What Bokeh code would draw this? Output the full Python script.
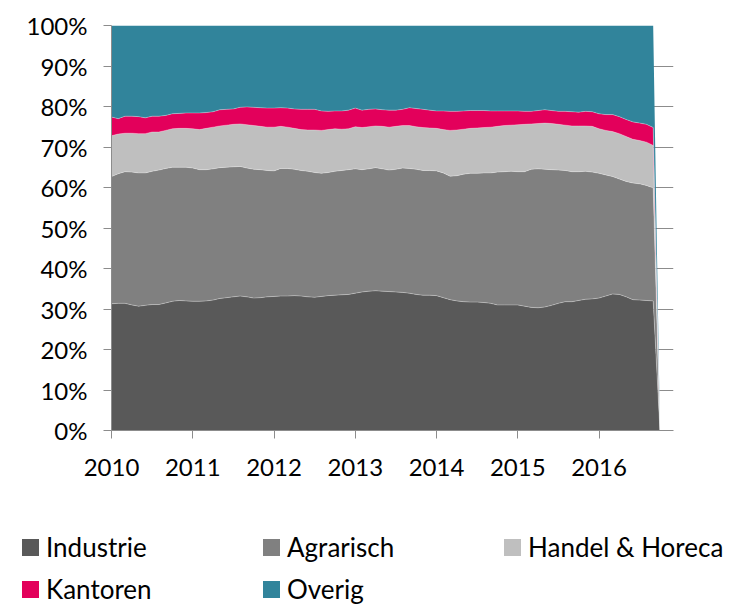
from bokeh.plotting import figure
from bokeh.layouts import column
from bokeh.models import ColumnDataSource, FixedTicker, NumeralTickFormatter, Range1d, Div
from bokeh.embed import file_html
from bokeh.resources import INLINE

# Monthly shares (percent), Jan 2010 .. Sep 2016, followed by an empty month (Oct 2016)
industrie = [31.3, 31.4, 31.4, 31.0, 30.7, 30.9, 31.1, 31.1, 31.5, 31.9, 32.1, 32.0,
             31.9, 31.9, 32.0, 32.2, 32.6, 32.8, 33.0, 33.2, 33.0, 32.7, 32.8, 33.0,
             33.1, 33.2, 33.2, 33.3, 33.2, 33.0, 32.9, 33.1, 33.3, 33.4, 33.5, 33.6,
             33.9, 34.2, 34.4, 34.5, 34.4, 34.3, 34.2, 34.1, 33.9, 33.6, 33.4, 33.4,
             33.3, 32.8, 32.3, 32.0, 31.8, 31.7, 31.7, 31.6, 31.4, 31.0, 31.0, 31.0,
             31.0, 30.7, 30.4, 30.3, 30.5, 30.9, 31.4, 31.8, 31.8, 32.1, 32.4, 32.5,
             32.7, 33.2, 33.7, 33.6, 33.0, 32.3, 32.2, 32.1, 32.0, 0.0]
agrarisch = [31.4, 32.0, 32.5, 32.8, 32.9, 32.7, 32.9, 33.2, 33.2, 33.1, 32.9, 33.0,
             32.9, 32.5, 32.4, 32.4, 32.3, 32.2, 32.1, 32.0, 31.8, 31.8, 31.6, 31.2,
             31.0, 31.5, 31.5, 31.2, 31.0, 31.0, 30.8, 30.4, 30.4, 30.6, 30.7, 30.8,
             30.7, 30.2, 30.2, 30.4, 30.2, 30.0, 30.3, 30.7, 30.8, 30.9, 30.8, 30.8,
             30.8, 30.8, 30.5, 30.9, 31.5, 31.8, 31.8, 32.0, 32.2, 32.8, 32.9, 33.0,
             32.9, 33.2, 34.1, 34.3, 34.0, 33.5, 32.9, 32.4, 32.1, 31.8, 31.6, 31.3,
             30.8, 29.9, 29.0, 28.5, 28.5, 28.8, 28.7, 28.4, 27.9, 0.0]
handel = [10.1, 9.8, 9.5, 9.6, 9.7, 9.7, 9.7, 9.4, 9.4, 9.5, 9.6, 9.6,
          9.7, 9.9, 10.2, 10.3, 10.3, 10.4, 10.5, 10.5, 10.7, 10.8, 10.7, 10.7,
          10.8, 10.4, 10.2, 10.1, 10.1, 10.2, 10.5, 10.6, 10.6, 10.5, 10.2, 10.1,
          10.4, 10.4, 10.4, 10.3, 10.5, 10.6, 10.6, 10.5, 10.6, 10.5, 10.6, 10.5,
          10.5, 10.7, 11.3, 11.3, 11.1, 11.1, 11.2, 11.2, 11.3, 11.3, 11.4, 11.4,
          11.6, 11.7, 11.2, 11.2, 11.4, 11.4, 11.3, 11.2, 11.3, 11.3, 11.2, 11.3,
          11.0, 11.0, 11.1, 11.2, 11.1, 10.8, 10.7, 10.7, 10.5, 0.0]
kantoren = [4.6, 3.8, 4.2, 4.2, 4.2, 3.9, 3.9, 3.9, 3.7, 3.7, 3.7, 3.8,
            3.9, 4.1, 3.9, 3.8, 4.0, 3.9, 3.8, 4.1, 4.4, 4.5, 4.6, 4.7,
            4.7, 4.6, 4.7, 4.8, 5.0, 5.1, 5.1, 4.8, 4.5, 4.4, 4.5, 4.6,
            4.6, 4.3, 4.3, 4.2, 4.1, 4.2, 4.0, 4.0, 4.4, 4.5, 4.5, 4.4,
            4.3, 4.6, 4.7, 4.6, 4.5, 4.4, 4.3, 4.2, 4.0, 3.8, 3.6, 3.5,
            3.4, 3.2, 3.1, 3.2, 3.3, 3.2, 3.2, 3.4, 3.5, 3.4, 3.6, 3.6,
            3.7, 3.9, 4.2, 4.2, 4.2, 4.3, 4.3, 4.4, 4.4, 0.0]
overig = [22.6, 23.0, 22.4, 22.4, 22.5, 22.8, 22.4, 22.4, 22.2, 21.8, 21.7, 21.6,
          21.6, 21.6, 21.5, 21.3, 20.8, 20.7, 20.6, 20.2, 20.1, 20.2, 20.3, 20.4,
          20.4, 20.3, 20.4, 20.6, 20.7, 20.7, 20.7, 21.1, 21.2, 21.1, 21.1, 20.9,
          20.4, 20.9, 20.7, 20.6, 20.8, 20.9, 20.9, 20.7, 20.3, 20.5, 20.7, 20.9,
          21.1, 21.1, 21.2, 21.2, 21.1, 21.0, 21.0, 21.0, 21.1, 21.1, 21.1, 21.1,
          21.1, 21.2, 21.2, 21.0, 20.8, 21.0, 21.2, 21.2, 21.3, 21.4, 21.2, 21.3,
          21.8, 22.0, 22.0, 22.5, 23.2, 23.8, 24.1, 24.4, 25.2, 0.0]

series_names = ["Industrie", "Agrarisch", "Handel & Horeca", "Kantoren", "Overig"]
series_colors = ["#595959", "#808080", "#bfbfbf", "#e3005b", "#31849b"]
year_ticks = [2010, 2011, 2012, 2013, 2014, 2015, 2016]
year_labels = ["2010", "2011", "2012", "2013", "2014", "2015", "2016"]
start_year = 2010
n_axis_months = 83

raw = [industrie, agrarisch, handel, kantoren, overig]
n = len(industrie)
x = [start_year + i / 12 for i in range(n)]
data = {"x": x}
for name, vals in zip(series_names, raw):
    col = []
    for i in range(n):
        tot = sum(r[i] for r in raw)
        col.append(vals[i] / tot if tot > 0 else 0.0)
    data[name] = col
source = ColumnDataSource(data)

FONT = "Lato"
GRAY = "#8c8c8c"
p = figure(frame_width=562, frame_height=405,
           min_border_left=111, min_border_right=60, min_border_top=25, min_border_bottom=70,
           output_backend="svg", toolbar_location=None,
           x_range=Range1d(start_year, start_year + n_axis_months / 12), y_range=Range1d(0, 1))
p.outline_line_color = None

p.varea_stack(stackers=series_names, x="x", color=series_colors, source=source)

# faint light seams between the stacked layers
cum = [0.0] * n
for name in series_names[:-1]:
    cum = [a + b for a, b in zip(cum, data[name])]
    p.line(x=x, y=list(cum), line_color="white", line_alpha=0.3, line_width=1)

p.xgrid.visible = False
p.ygrid.grid_line_color = GRAY
p.ygrid.ticker = FixedTicker(ticks=[i / 10 for i in range(11)])

p.yaxis.ticker = FixedTicker(ticks=[i / 10 for i in range(11)])
p.yaxis.formatter = NumeralTickFormatter(format="0%")
p.xaxis.ticker = FixedTicker(ticks=year_ticks)
p.xaxis.major_label_overrides = {t: l for t, l in zip(year_ticks, year_labels)}
for ax in (p.xaxis, p.yaxis):
    ax.axis_line_color = GRAY
    ax.major_tick_line_color = GRAY
    ax.major_tick_in = 0
    ax.major_tick_out = 8
    ax.minor_tick_line_color = None
    ax.major_label_text_font = FONT
    ax.major_label_text_font_size = "24px"
    ax.major_label_text_color = "black"
p.yaxis.major_label_standoff = 16
p.xaxis.major_label_standoff = 20

# legend (two rows, three columns) below the chart
col_x = [22, 263, 504]
row_y = [39, 81]
parts = []
for k, (nm, c) in enumerate(zip(series_names, series_colors)):
    r, cidx = divmod(k, 3)
    gx, gy = col_x[cidx], row_y[r]
    parts.append(
        f'<div style="position:absolute;left:{gx}px;top:{gy}px;width:17px;height:17px;background:{c};"></div>'
        f'<div style="position:absolute;left:{gx + 24}px;top:{gy - 7}px;line-height:31px;'
        f'white-space:nowrap;">{nm.replace("&", "&amp;")}</div>'
    )
html = ('<div style="position:relative;width:733px;height:104px;font-family:Lato;'
        'font-size:26px;color:#000;">' + "".join(parts) + "</div>")
legend_div = Div(text=html, width=733, height=104, margin=(0, 0, 0, 0))

layout = column(p, legend_div, spacing=0)
open("out.html", "w").write(file_html(layout, INLINE))
